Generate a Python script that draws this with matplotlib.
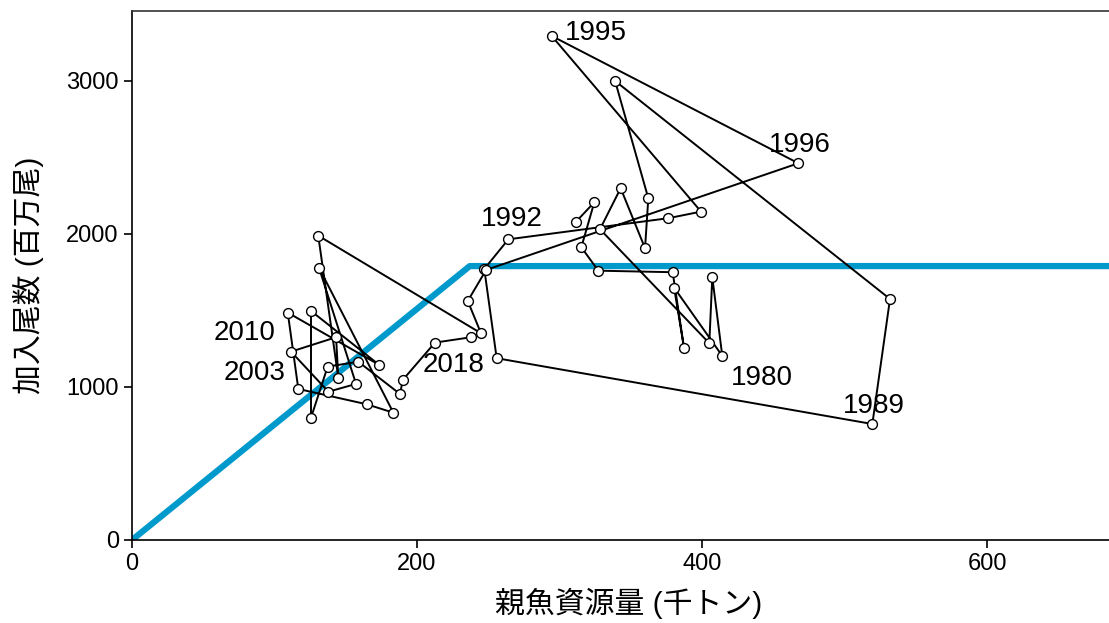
import numpy as np
import matplotlib
matplotlib.use("Agg")
import matplotlib.pyplot as plt

plt.rcParams['font.family'] = ['Liberation Sans', 'Noto Sans CJK JP']

years = list(range(1973, 2020))
# spawning stock biomass (thousand t)
ssb = [311.6, 324.4, 315.3, 327.2, 379.4, 387.4, 380.4, 414.2, 407.2, 405.1,
       328.4, 342.9, 360.0, 362.3, 339.0, 531.9, 519.5, 255.9, 247.2, 264.1,
       376.4, 399.3, 294.5, 467.6, 248.5, 235.6, 244.9, 130.7, 144.8, 143.2,
       111.6, 137.8, 157.2, 131.2, 183.4, 164.7, 116.7, 109.3, 173.5, 125.6,
       125.6, 137.3, 158.8, 188.1, 190.0, 212.6, 237.9]
# recruits (million fish)
rec = [2080, 2207, 1913, 1760, 1750, 1253, 1649, 1203, 1717, 1286,
       2031, 2299, 1907, 2233, 3000, 1575, 758, 1188, 1771, 1965,
       2103, 2146, 3294, 2462, 1765, 1562, 1351, 1989, 1057, 1325,
       1231, 969, 1020, 1780, 832, 887, 987, 1486, 1144, 1497,
       799, 1133, 1165, 954, 1046, 1290, 1325]

# hockey-stick stock-recruitment line
sr_break = 237
sr_rmax = 1790

# labelled years: offset of the label centre from the point, in pixels
label_years = [1980, 1989, 1992, 1995, 1996, 2003, 2010, 2018]
label_dx = [40, 2, 3, 44, 1, -36, -43, 19]
label_dy = [-22, 18, 20, 3, 18, -21, -20, -22]

fig = plt.figure(figsize=(11.09, 6.23), dpi=100)
# panel runs a little past the right edge of the figure
ax = fig.add_axes([132 / 1109, 83 / 623, 994 / 1109, 529 / 623])

ax.plot([0, sr_break, 720], [0, sr_rmax, sr_rmax], color='#0099cc', lw=4.5,
        solid_capstyle='butt', zorder=1)
ax.plot(ssb, rec, color='black', lw=1.4, zorder=2)
ax.scatter(ssb, rec, s=50, facecolor='white', edgecolor='black', lw=1.0, zorder=3)

for y, dx, dy in zip(label_years, label_dx, label_dy):
    i = years.index(y)
    ax.annotate(str(y), (ssb[i], rec[i]), xytext=(dx * 0.72, dy * 0.72),
                textcoords='offset points', fontsize=20, va='center', ha='center')

ax.set_xlim(0, 697.5)
ax.set_ylim(0, 3457)
ax.set_xticks([0, 200, 400, 600])
ax.set_yticks([0, 1000, 2000, 3000])
ax.tick_params(labelsize=17, length=6, width=1.2, colors='black')
ax.spines['right'].set_visible(False)
for s in ['left', 'bottom', 'top']:
    ax.spines[s].set_linewidth(1.2)
ax.spines['top'].set_color('#333333')
ax.set_xlabel('親魚資源量 (千トン)', fontsize=21.5, labelpad=9)
ax.set_ylabel('加入尾数 (百万尾)', fontsize=21.5, labelpad=16)

fig.savefig('out.png', dpi=100)
